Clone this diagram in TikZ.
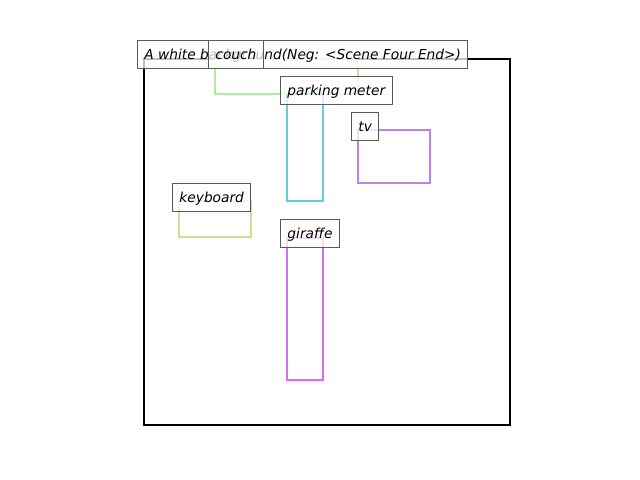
\documentclass[tikz,border=0pt]{standalone}
\usepackage{fontspec}
\setmainfont{DejaVu Sans}
\begin{document}
\begin{tikzpicture}[x=0.72pt,y=-0.72pt,
  frame/.style={draw=black,line width=1.7pt},
  bbox/.style={line width=2.1pt},
  lbl/.style={draw=black!65,line width=0.72pt,fill=white,fill opacity=0.75,text opacity=1,
    anchor=west,inner xsep=5pt,inner ysep=0pt,minimum height=20.16pt,
    text height=9pt,text depth=1.5pt,
    font=\fontsize{9.9pt}{12pt}\selectfont\itshape},
]
\definecolor{ccouch}{RGB}{178,234,164}
\definecolor{cpark}{RGB}{96,206,220}
\definecolor{ctv}{RGB}{188,134,224}
\definecolor{ckey}{RGB}{198,226,150}
\definecolor{cgir}{RGB}{214,112,240}
\useasboundingbox (0,0) rectangle (640,480);
\draw[frame] (144,59) rectangle (510,425);
\draw[bbox,draw=ccouch] (215,59) rectangle (358,94);
\draw[bbox,draw=cpark] (287,94) rectangle (323,201);
\draw[bbox,draw=ctv] (358,130) rectangle (430,183);
\draw[bbox,draw=ckey] (179,201) rectangle (251,237);
\draw[bbox,draw=cgir] (287,238) rectangle (323,380);
\node[lbl] (title) at (137,54) {A white background(Neg: <Scene Four End>)};
\node[lbl] (couch) at (208,54) {couch};
\node[lbl] (park) at (280,90) {parking meter};
\node[lbl] (tv) at (351,126) {tv};
\node[lbl] (key) at (172,197) {keyboard};
\node[lbl] (gir) at (280,233) {giraffe};
\end{tikzpicture}
\end{document}
